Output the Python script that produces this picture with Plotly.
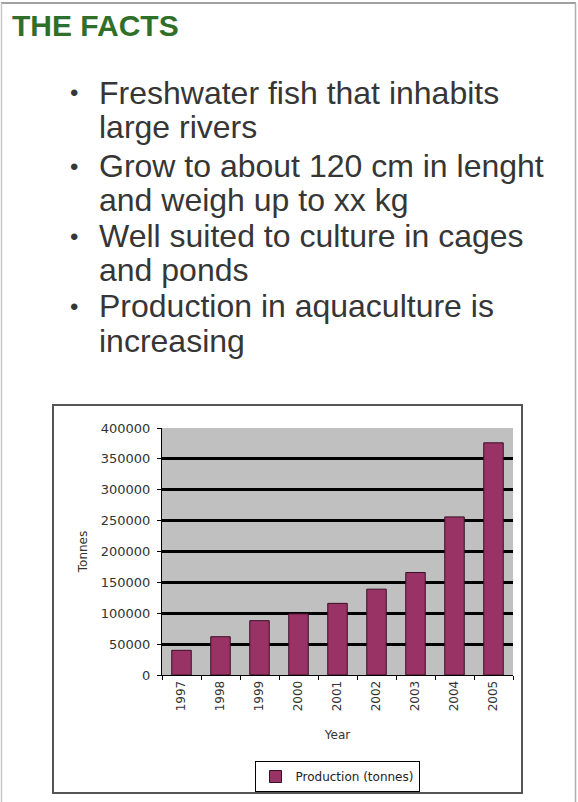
import plotly.graph_objects as go

# ---- data ----
years = ["1997", "1998", "1999", "2000", "2001", "2002", "2003", "2004", "2005"]
production = [40000, 62000, 88000, 99000, 116000, 139000, 166000, 256000, 376000]
series_name = "Production (tonnes)"
y_ticks = [0, 50000, 100000, 150000, 200000, 250000, 300000, 350000, 400000]

title_text = "THE FACTS"
bullet_lines = [
    ("•", "Freshwater fish that inhabits"),
    ("", "large rivers"),
    ("•", "Grow to about 120 cm in lenght"),
    ("", "and weigh up to xx kg"),
    ("•", "Well suited to culture in cages"),
    ("", "and ponds"),
    ("•", "Production in aquaculture is"),
    ("", "increasing"),
]

W, H = 578, 802


def px(x):
    return x / W


def py(y):
    return 1 - y / H


fig = go.Figure()
fig.add_trace(go.Bar(
    x=years, y=production, name=series_name,
    marker=dict(color="#993366", line=dict(color="#3a0f24", width=1)),
    showlegend=True,
))

# plot area
x0, x1 = 162, 513
y_top, y_bot = 428, 675

fig.update_layout(
    width=W, height=H, autosize=False,
    margin=dict(l=0, r=0, t=0, b=0, pad=0, autoexpand=False),
    paper_bgcolor="white",
    plot_bgcolor="#c0c0c0",
    bargap=0.5,
    font=dict(family="Liberation Sans, Arial, sans-serif", color="#333333"),
    xaxis=dict(
        domain=[px(x0), px(x1)],
        type="category",
        tickangle=-90,
        tickfont=dict(family="DejaVu Sans", size=12, color="#333333"),
        ticks="outside", ticklen=4, tickcolor="black", tickson="boundaries",
        showline=True, linecolor="black", linewidth=1,
        showgrid=False, automargin=False,
        title=dict(text="Year", font=dict(family="DejaVu Sans", size=12, color="#333333"), standoff=20),
        fixedrange=True,
    ),
    yaxis=dict(
        domain=[py(y_bot), py(y_top)],
        range=[0, 400000],
        tickvals=y_ticks,
        ticktext=[str(v) for v in y_ticks],
        tickfont=dict(family="DejaVu Sans", size=13, color="#333333"),
        ticks="outside", ticklen=4, tickcolor="black",
        ticklabelstandoff=4,
        showline=True, linecolor="black", linewidth=1,
        showgrid=True, gridcolor="black", gridwidth=2.5,
        zeroline=False, automargin=False,
        title=dict(text="Tonnes", font=dict(family="DejaVu Sans", size=12, color="#333333"), standoff=10),
        fixedrange=True,
    ),
    legend=dict(
        x=px(337), y=py(761), xanchor="center", yanchor="top",
        bordercolor="black", borderwidth=1, bgcolor="white",
        font=dict(family="DejaVu Sans", size=12, color="#222222"),
        itemwidth=30,
    ),
)

# frames
shapes = [
    # outer slide frame
    dict(type="line", xref="paper", yref="paper", x0=px(1), x1=px(576), y0=py(3), y1=py(3),
         line=dict(color="#a0a0a0", width=2)),
    dict(type="line", xref="paper", yref="paper", x0=px(1.5), x1=px(1.5), y0=py(3), y1=py(802),
         line=dict(color="#c8c8c8", width=1.5)),
    dict(type="line", xref="paper", yref="paper", x0=px(575.5), x1=px(575.5), y0=py(3), y1=py(802),
         line=dict(color="#b0b0b0", width=1.5)),
    # chart box
    dict(type="rect", xref="paper", yref="paper", x0=px(53), x1=px(522), y0=py(793), y1=py(405),
         line=dict(color="#555555", width=2)),
]
fig.update_layout(shapes=shapes)

annotations = [
    dict(text=f"<b>{title_text}</b>", x=px(10), y=py(26), xref="paper", yref="paper",
         xanchor="left", yanchor="middle", showarrow=False,
         font=dict(family="Liberation Sans, Arial", size=30, color="#2f6f2a")),
]
baselines = [105, 139, 178, 212, 248, 282, 318, 353]
for (b, line), base in zip(bullet_lines, baselines):
    ymid = base - 12
    annotations.append(dict(text=line, x=px(97), y=py(ymid), xref="paper", yref="paper",
                            xanchor="left", yanchor="middle", showarrow=False,
                            font=dict(family="Liberation Sans, Arial", size=32, color="#363636")))
    if b:
        annotations.append(dict(text=b, x=px(74), y=py(ymid), xref="paper", yref="paper",
                                xanchor="center", yanchor="middle", showarrow=False,
                                font=dict(family="Liberation Sans, Arial", size=24, color="#363636")))
fig.update_layout(annotations=annotations)

fig.write_html("out.html", config={"displayModeBar": False},
               post_script="document.body.style.margin='0';document.body.style.overflow='hidden';")
